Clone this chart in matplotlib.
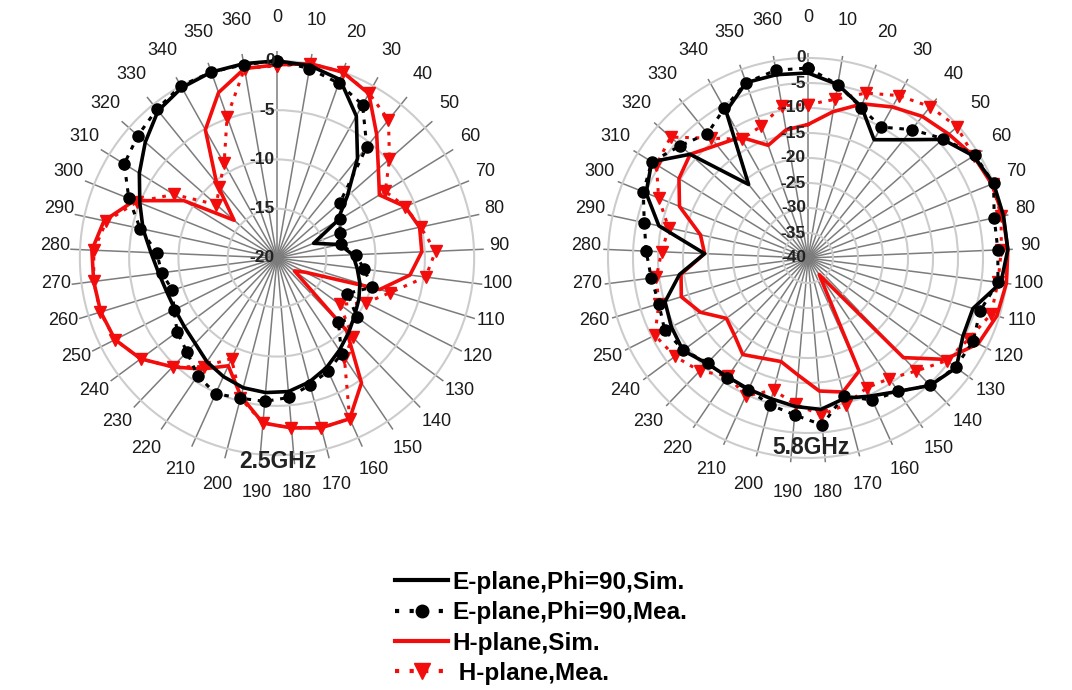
import numpy as np
import matplotlib
matplotlib.use('Agg')
import matplotlib.pyplot as plt
from matplotlib.lines import Line2D

plt.rcParams['font.family'] = ['Liberation Sans', 'DejaVu Sans']

# ---------------- data ----------------
angle_labels = [str(a) for a in range(0, 361, 10)]   # 37 categories (Excel radar)

# 2.5 GHz
e_sim_25 = [0, -0.2, -0.8, -3.5, -7, -10.5, -12.8, -16, -13.5, -12.3, -11.8, -11.2, -10.7,
            -10.2, -9.5, -8.7, -7.8, -7, -6.4, -6.3, -6.4, -6.8, -7.3, -8, -8.3, -8.4, -8.3,
            -7.9, -7.2, -6.1, -5, -3.6, -2.2, -0.8, -0.2, 0, 0]
e_mea_25 = [0, -0.5, -1.2, -2.2, -5.5, -11.5, -12.5, -13.1, -13.4, -12, -11.1, -9.9, -12,
            -9.9, -11, -8.3, -7.4, -6.7, -5.8, -5.4, -5.3, -4.9, -5.6, -6.8, -7.4, -8.3, -8.9,
            -8.2, -7.8, -5.8, -3.8, -1.8, -1.2, -0.6, 0, 0, -0.1]
h_sim_25 = [-0.4, 0, 0, -0.9, -3.9, -6.3, -7.8, -6.0, -5.2, -5.3, -6.4, -9.1, -16.8, -17.8,
            -9.8, -4.7, -2.1, -2.2, -2.7, -3.2, -5.5, -8.0, -6.4, -4.7, -2.8, -1.6, -1.3,
            -1.25, -1.2, -2.05, -4.4, -8.9, -14.2, -10.25, -5.1, -2.2, -0.5]
h_mea_25 = [-0.5, 0, 0, -0.85, -2, -4.8, -7.1, -6.0, -5.1, -3.9, -4.8, -8, -9.9, -12.1,
            -8.9, -7.8, -2.1, -2.2, -2.7, -3.2, -5.3, -8.8, -6.7, -4.7, -2.8, -1.6, -1.25,
            -1.25, -1.4, -2.3, -4.7, -7.7, -11.8, -10.7, -9.0, -4.8, -0.5]

# 5.8 GHz
e_sim_58 = [-3, -4.8, -7.9, -12.9, -9.6, -4.1, -1.1, 0, 0, 0, -1.1, -5.5, -5.3, -3.1, -4.7,
            -7.8, -9.7, -11, -9.6, -10.2, -10.9, -11.2, -11.3, -10.8, -8.9, -9.4, -10.1,
            -14.1, -19.3, -9.5, -5.1, -3.3, -8.6, -21.1, -6.4, -2.8, -2.8]
e_mea_58 = [-2, -4.8, -8.1, -10, -7, -3.9, -0.8, 0, -1.9, -2, -1.7, -4, -3, -3.3, -4.7,
            -7.8, -8.8, -11.5, -6.5, -8.5, -9.7, -11.1, -11, -11, -9, -7.9, -8.8, -8.4, -7.6,
            -6.5, -4.5, -3.3, -6, -8, -5.7, -2.8, -1.9]
h_sim_58 = [-13.3, -10.3, -7.3, -5.4, -3.6, -2.5, -1.1, -0.4, -0.1, 0, 0, -0.5, -1.9, -5.9,
            -12.4, -36, -15.2, -12.3, -13.3, -16.5, -18.6, -18, -16.7, -18.7, -19.7, -15.9,
            -13.5, -14.4, -19.3, -18, -12.3, -9.7, -8.6, -11, -12.3, -16.1, -14]
h_mea_58 = [-9.3, -7.8, -5, -2.8, -1.1, -0.3, -1.1, -0.2, -0.5, -1.3, -1.7, -1.7, -4, -5.5,
            -8.7, -10.9, -11.5, -9.7, -8.5, -10.6, -12.7, -9.7, -11.5, -8.7, -6.9, -5.7,
            -8.8, -9.4, -10.7, -11.5, -7.8, -4.4, -3.4, -9.2, -12.8, -12, -9.1]

r_ticks_25 = [-20, -15, -10, -5, 0]
r_ticks_58 = [-40, -35, -30, -25, -20, -15, -10, -5, 0]

legend_labels = ['E-plane,Phi=90,Sim.', 'E-plane,Phi=90,Mea.', 'H-plane,Sim.', ' H-plane,Mea.']

RED = '#f20c0c'

fig = plt.figure(figsize=(10.72, 6.9), dpi=100)
W, H = 1072, 690


def px_axes(cx, cy, rad):
    return [(cx - rad) / W, (H - cy - rad) / H, 2 * rad / W, 2 * rad / H]


def closed(v):
    return list(v) + [v[0]]


def draw_panel(cx, cy, rad, rticks, series, title, title_off):
    ax = fig.add_axes(px_axes(cx, cy, rad), projection='polar')
    n = len(angle_labels)
    theta = np.arange(n) * 2 * np.pi / n
    ax.set_theta_zero_location('N')
    ax.set_theta_direction(-1)
    ax.set_ylim(rticks[0], 1)
    ax.set_xticks(theta)
    ax.set_xticklabels([])
    ax.set_yticks(rticks[1:])
    ax.set_yticklabels([])
    ax.xaxis.grid(True, color='#7c7c7c', lw=1.1)
    ax.yaxis.grid(True, color='#cccccc', lw=1.5)
    ax.spines['polar'].set_visible(False)
    ax.tick_params(length=0)

    th = closed(theta)
    es, em, hs, hm = series
    ax.plot(th, closed(hs), color=RED, lw=2.6, zorder=4, clip_on=False)
    ax.plot(th, closed(hm), color=RED, lw=2.2, ls=(0, (1.2, 2.2)), marker='v', ms=9,
            zorder=5, clip_on=False)
    ax.plot(th, closed(es), color='black', lw=2.6, zorder=6, clip_on=False)
    ax.plot(th, closed(em), color='black', lw=2.2, ls=(0, (1.5, 2.2)), marker='o', ms=8,
            zorder=7, clip_on=False)

    # radial labels along 0 deg
    for v in rticks:
        ax.annotate(str(v), xy=(0, v), xycoords='data', xytext=(-1.5, 0),
                    textcoords='offset points', ha='right', va='center',
                    fontsize=12.5, fontweight='bold', color='#222222', zorder=10)

    # angular labels
    k = 72 / 100.0
    for i, lab in enumerate(angle_labels):
        phi = theta[i]
        R = 222 + 16 * np.cos(phi) ** 2
        dx = R * np.sin(phi)
        dy = R * np.cos(phi) + 3
        ax.annotate(lab, xy=(0.5, 0.5), xycoords='axes fraction',
                    xytext=(dx * k, dy * k), textcoords='offset points',
                    ha='center', va='center', fontsize=13, color='#1a1a1a',
                    annotation_clip=False)

    ax.annotate(title, xy=(0.5, 0.5), xycoords='axes fraction',
                xytext=(title_off[0] * k, title_off[1] * k), textcoords='offset points',
                ha='center', va='center', fontsize=16.5, fontweight='bold',
                color='#222222', zorder=10)
    return ax


draw_panel(277, 258, 207, r_ticks_25, (e_sim_25, e_mea_25, h_sim_25, h_mea_25),
           '2.5GHz', (1, -204))
draw_panel(808, 258, 205, r_ticks_58, (e_sim_58, e_mea_58, h_sim_58, h_mea_58),
           '5.8GHz', (3, -190))

handles = [
    Line2D([], [], color='black', lw=3),
    Line2D([], [], color='black', lw=3, ls=(0, (1, 2.5)), marker='o', ms=9),
    Line2D([], [], color=RED, lw=3),
    Line2D([], [], color=RED, lw=3, ls=(0, (1, 2.5)), marker='v', ms=12),
]
fig.legend(handles, legend_labels, loc='upper left',
           bbox_to_anchor=(395 / W, 1 - 571 / H), frameon=False,
           prop={'size': 17.5, 'weight': 'bold'}, handlelength=2.2,
           handletextpad=0.15, labelspacing=0.3, borderpad=0, borderaxespad=0,
           numpoints=1)

fig.savefig('out.png', dpi=100)
